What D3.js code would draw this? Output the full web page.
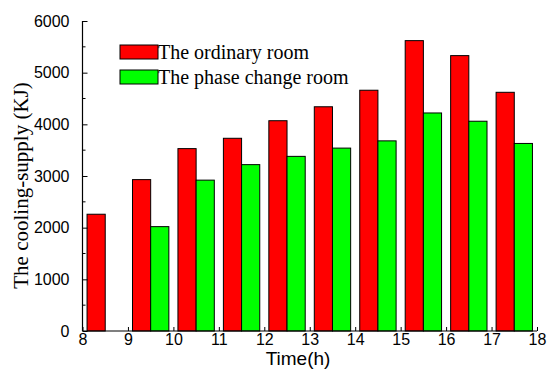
<!DOCTYPE html>
<html>
<head>
<meta charset="utf-8">
<script src="https://cdn.jsdelivr.net/npm/d3@7"></script>
<style>
  html, body { margin: 0; padding: 0; background: #fff; }
  svg { display: block; }
  .sans { font-family: 'Liberation Sans', Arial, Helvetica, sans-serif; }
  .serif { font-family: 'Liberation Serif', 'Times New Roman', Times, serif; }
</style>
</head>
<body>
<svg id="chart" width="550" height="370"></svg>
<script>
const hours = [8, 9, 10, 11, 12, 13, 14, 15, 16, 17];
const ordinaryRoom = [2260, 2930, 3530, 3730, 4070, 4340, 4660, 5620, 5330, 4620];
const phaseChangeRoom = [null, 2020, 2920, 3220, 3380, 3540, 3680, 4220, 4060, 3630];
const xTicks = [8, 9, 10, 11, 12, 13, 14, 15, 16, 17, 18];
const yTicks = [0, 1000, 2000, 3000, 4000, 5000, 6000];
const yMinorTicks = [500, 1500, 2500, 3500, 4500, 5500];
const seriesNames = ["The ordinary room", "The phase change room"];
const seriesColors = ["#ff0000", "#00ff00"];

const svg = d3.select("#chart");
const W = 550, H = 370;
const m = { left: 82.5, right: 13, top: 21, bottom: 39 };

const x = d3.scaleLinear().domain([8, 18]).range([m.left, W - m.right]);
const y = d3.scaleLinear().domain([0, 6000]).range([H - m.bottom, m.top]);

// bars
const g = svg.append("g");
const data = hours.map((h, i) => ({ h, a: ordinaryRoom[i], b: phaseChangeRoom[i] }));
g.selectAll("rect.a").data(data).join("rect")
  .attr("class", "a")
  .attr("x", d => x(d.h + 0.1))
  .attr("width", d => x(d.h + 0.5) - x(d.h + 0.1))
  .attr("y", d => y(d.a))
  .attr("height", d => y(0) - y(d.a))
  .attr("fill", seriesColors[0])
  .attr("stroke", "#000").attr("stroke-width", 1);
g.selectAll("rect.b").data(data.filter(d => d.b != null)).join("rect")
  .attr("class", "b")
  .attr("x", d => x(d.h + 0.5))
  .attr("width", d => x(d.h + 0.9) - x(d.h + 0.5))
  .attr("y", d => y(d.b))
  .attr("height", d => y(0) - y(d.b))
  .attr("fill", seriesColors[1])
  .attr("stroke", "#000").attr("stroke-width", 1);

// y axis
const yAxis = svg.append("g").attr("transform", `translate(${m.left},0)`)
  .call(d3.axisLeft(y).tickValues(yTicks).tickSize(-5).tickPadding(13).tickFormat(d3.format("d")));
yAxis.attr("font-family", null);
yAxis.select(".domain").attr("d", `M0,${y(0)}V${y(6000)}`).attr("stroke", "#000").attr("stroke-width", 1.2);
yAxis.selectAll("text").attr("class", "sans").attr("font-size", 16).attr("fill", "#000");
yAxis.selectAll(".tick line").attr("stroke", "#000");
svg.append("g").attr("transform", `translate(${m.left},0)`)
  .selectAll("line").data(yMinorTicks).join("line")
  .attr("x1", 0).attr("x2", 3).attr("y1", d => y(d)).attr("y2", d => y(d))
  .attr("stroke", "#000");

// x axis
const xAxis = svg.append("g").attr("transform", `translate(0,${y(0)})`)
  .call(d3.axisBottom(x).tickValues(xTicks).tickSize(-4).tickPadding(3).tickFormat(d3.format("d")));
xAxis.attr("font-family", null);
xAxis.select(".domain").attr("d", `M${x(8)},0H${x(18)}`).attr("stroke", "#000").attr("stroke-width", 1.2);
xAxis.selectAll("text").attr("class", "sans").attr("font-size", 16).attr("fill", "#000");
xAxis.selectAll(".tick line").attr("stroke", "#000");

// axis titles
svg.append("text").attr("class", "sans").attr("x", 298).attr("y", 365).attr("text-anchor", "middle")
  .attr("font-size", 19).text("Time(h)");
svg.append("text").attr("class", "serif").attr("transform", "translate(28,185.5) rotate(-90)").attr("text-anchor", "middle")
  .attr("font-size", 21).text("The cooling-supply (KJ)");

// legend
const leg = svg.append("g");
seriesNames.forEach((name, i) => {
  const yy = 45 + i * 25;
  leg.append("rect").attr("x", 120).attr("y", yy).attr("width", 38).attr("height", 14)
    .attr("fill", seriesColors[i]).attr("stroke", "#000");
  leg.append("text").attr("class", "serif").attr("x", 158).attr("y", yy + 13.5)
    .attr("font-size", 20).text(name);
});
</script>
</body>
</html>
